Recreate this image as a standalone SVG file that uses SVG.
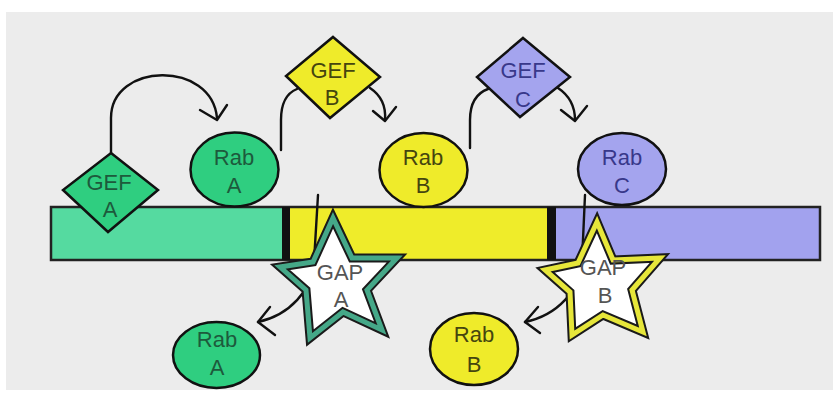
<svg xmlns="http://www.w3.org/2000/svg" width="833" height="396" viewBox="0 0 833 396">
<defs>
<style>
text{font-family:"Liberation Sans",Arial,sans-serif;font-size:22px;text-anchor:middle}
.g{fill:#2fce80}.y{fill:#efeb2a}.b{fill:#a4a4ee}
.o{stroke:#111;stroke-width:2.5}
.tg{fill:#1d5a3c}.ty{fill:#45450f}.tb{fill:#38388a}.tp{fill:#555;font-size:22px}
.c{fill:none;stroke:#111;stroke-width:2.4;stroke-linecap:round;stroke-linejoin:round}
</style>
</defs>
<rect x="0" y="0" width="833" height="396" fill="#fff"/>
<rect x="6" y="12" width="827" height="378" fill="#ececec"/>

<g id="membrane">
<rect x="51" y="207" width="232" height="53" fill="#55daa0"/>
<rect x="289" y="207" width="258" height="53" fill="#efec2a"/>
<rect x="556" y="207" width="264" height="53" fill="#a2a2ee"/>
<rect x="51" y="207" width="769" height="53" fill="none" stroke="#222" stroke-width="2.5"/>
<rect x="282" y="207" width="8" height="53" fill="#111"/>
<rect x="547" y="207" width="9" height="53" fill="#111"/>
</g>

<g id="connectors">
<path class="c" d="M111,153 V118 C111,62 212,60 217,118"/>
<path class="c" d="M200,110 L217,120 L227,105"/>
<path class="c" d="M281,150 V120 C281,102 287,93 297,89"/>
<path class="c" d="M370,88 C382,96 386,108 385,120"/>
<path class="c" d="M373,111 L385,121 L396,107"/>
<path class="c" d="M470,148 V120 C470,102 477,93 488,89"/>
<path class="c" d="M558,88 C570,96 575,108 575,120"/>
<path class="c" d="M561,110 L575,121 L587,106"/>
<path class="c" d="M318,195 L314,262 C312,290 290,315 258,322"/>
<path class="c" d="M270,307 L258,322 L275,335"/>
<path class="c" d="M585,195 L582,262 C580,290 558,315 525,322"/>
<path class="c" d="M538,307 L525,322 L540,333"/>
</g>

<g id="gef-a">
<polygon class="g o" points="111,153 158,190 108,232 63,190"/>
<text class="tg" x="109" y="190">GEF</text>
<text class="tg" x="110" y="217">A</text>
</g>
<g id="rab-a">
<ellipse class="g o" cx="234.5" cy="169.5" rx="44" ry="37"/>
<text class="tg" x="234" y="165">Rab</text>
<text class="tg" x="234" y="193">A</text>
</g>
<g id="gef-b">
<polygon class="y o" points="333,37 380,77 330,118 286,76"/>
<text class="ty" x="333" y="78">GEF</text>
<text class="ty" x="332" y="105">B</text>
</g>
<g id="rab-b">
<ellipse class="y o" cx="423.5" cy="170" rx="44" ry="37"/>
<text class="ty" x="423" y="165">Rab</text>
<text class="ty" x="423" y="193">B</text>
</g>
<g id="gef-c">
<polygon class="b o" points="523,38 570,77 520,117 477,77"/>
<text class="tb" x="523" y="78">GEF</text>
<text class="tb" x="523" y="107">C</text>
</g>
<g id="rab-c">
<ellipse class="b o" cx="622" cy="169" rx="44" ry="36"/>
<text class="tb" x="622" y="165">Rab</text>
<text class="tb" x="622" y="193">C</text>
</g>

<g id="gap-a">
<polygon points="333,218 352,258 397,258 367,290 382,330 343,312 310,338 306,290 280,267 313,262" fill="#fff" stroke="#1a1a1a" stroke-width="9"/>
<polygon points="333,218 352,258 397,258 367,290 382,330 343,312 310,338 306,290 280,267 313,262" fill="none" stroke="#45a888" stroke-width="5"/>
<text class="tp" x="340" y="280">GAP</text>
<text class="tp" x="341" y="307">A</text>
</g>
<g id="gap-b">
<polygon points="597,222 613,260 660,258 632,290 643,332 603,315 572,335 570,292 545,270 578,263" fill="#fff" stroke="#1a1a1a" stroke-width="9"/>
<polygon points="597,222 613,260 660,258 632,290 643,332 603,315 572,335 570,292 545,270 578,263" fill="none" stroke="#e6e63a" stroke-width="5"/>
<text class="tp" x="603" y="275">GAP</text>
<text class="tp" x="605" y="303">B</text>
</g>

<g id="rab-a-free">
<ellipse class="g o" cx="216.5" cy="355" rx="43.5" ry="33"/>
<text class="tg" x="217" y="347">Rab</text>
<text class="tg" x="217" y="375">A</text>
</g>
<g id="rab-b-free">
<ellipse class="y o" cx="474" cy="349" rx="44" ry="36"/>
<text class="ty" x="474" y="342">Rab</text>
<text class="ty" x="474" y="372">B</text>
</g>
</svg>
